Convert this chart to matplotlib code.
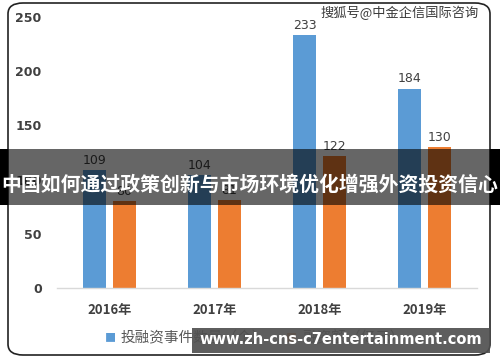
import matplotlib
matplotlib.use("Agg")
import matplotlib.pyplot as plt
from matplotlib.patches import FancyBboxPatch, Rectangle
import numpy as np

plt.rcParams['font.family'] = ['Noto Sans CJK SC', 'DejaVu Sans']

categories = ['2016年', '2017年', '2018年', '2019年']
deals = [109, 104, 233, 184]
amount = [80, 81, 122, 130]
series_names = ['投融资事件数量（个）', '融资额（亿元）']
yticks = [0, 50, 100, 150, 200, 250]
title_banner = '中国如何通过政策创新与市场环境优化增强外资投资信心'
watermark = '搜狐号@中金企信国际咨询'
url_text = 'www.zh-cns-c7entertainment.com'

blue = '#5b9bd5'
orange = '#ed7d31'
W, H = 500, 362

fig = plt.figure(figsize=(5.0, 3.62), dpi=100)
fig.patch.set_facecolor('white')

# rounded frame
frame = FancyBboxPatch((8/W, 7/H), 482/W, 352/H,
                       boxstyle="round,pad=0,rounding_size=0.03",
                       transform=fig.transFigure, fill=False,
                       edgecolor='#222222', linewidth=1.2, zorder=0)
fig.patches.append(frame)

ax = fig.add_axes([57/W, 1 - 288/H, 420/W, (288 - 17)/H])
x = np.arange(len(categories))
bw = 0.22
off = 0.143
b1 = ax.bar(x - off, deals, bw, color=blue, label=series_names[0], zorder=2)
b2 = ax.bar(x + off, amount, bw, color=orange, label=series_names[1], zorder=2)
for rects, vals in ((b1, deals), (b2, amount)):
    for r, v in zip(rects, vals):
        ax.text(r.get_x() + r.get_width()/2, v + 3, str(v), ha='center', va='bottom',
                fontsize=9, color='#404040', family=['DejaVu Sans'])

ax.set_xlim(-0.5, 3.5)
ax.set_ylim(0, 250)
ax.set_yticks(yticks)
ax.set_yticklabels([str(t) for t in yticks], fontsize=9, color='#404040',
                   fontweight='bold', family=['DejaVu Sans'])
ax.set_xticks(x)
ax.set_xticklabels(categories, fontsize=9.5, color='#404040', fontweight='bold')
ax.tick_params(axis='both', length=0)
ax.tick_params(axis='y', pad=11)
ax.tick_params(axis='x', pad=11)
for s in ['top', 'right', 'left']:
    ax.spines[s].set_visible(False)
ax.spines['bottom'].set_color('#d9d9d9')
ax.spines['bottom'].set_linewidth(1.0)
ax.set_facecolor('none')

# legend
fig.text(110/W, 1 - 338/H, '■', color=blue, fontsize=8, va='center', ha='center')
fig.text(121/W, 1 - 338/H, series_names[0], color='#595959', fontsize=10.5, va='center', ha='left')
fig.text(291/W, 1 - 338/H, '■', color=orange, fontsize=8, va='center', ha='center')
fig.text(302/W, 1 - 338/H, series_names[1], color='#595959', fontsize=10.5, va='center', ha='left')

# watermark top right
fig.text(400/W, 1 - 13/H, watermark, color='#3a3a3a', fontsize=9.5, va='center', ha='center')

# middle banner (translucent over chart, black outside frame)
fig.patches.append(Rectangle((0, 1 - 205/H), 8/W, 56/H, transform=fig.transFigure,
                             facecolor='black', edgecolor='none', zorder=5))
fig.patches.append(Rectangle((490/W, 1 - 205/H), 10/W, 56/H, transform=fig.transFigure,
                             facecolor='black', edgecolor='none', zorder=5))
fig.patches.append(Rectangle((8/W, 1 - 205/H), 482/W, 56/H, transform=fig.transFigure,
                             facecolor='black', alpha=0.6, edgecolor='none', zorder=5))
fig.text(0.5, 1 - 184/H, title_banner, color='white', fontsize=14.3, fontweight='bold',
         ha='center', va='center', zorder=6)

# bottom url banner
fig.patches.append(Rectangle((192/W, 1 - 353/H), 298/W, 25/H, transform=fig.transFigure,
                             facecolor='#505050', alpha=0.92, edgecolor='none', zorder=5))
fig.text(341/W, 1 - 340/H, url_text, color='white', fontsize=10.5, fontweight='bold',
         ha='center', va='center', zorder=6, family=['DejaVu Sans'])

fig.savefig('out.png', dpi=100)
